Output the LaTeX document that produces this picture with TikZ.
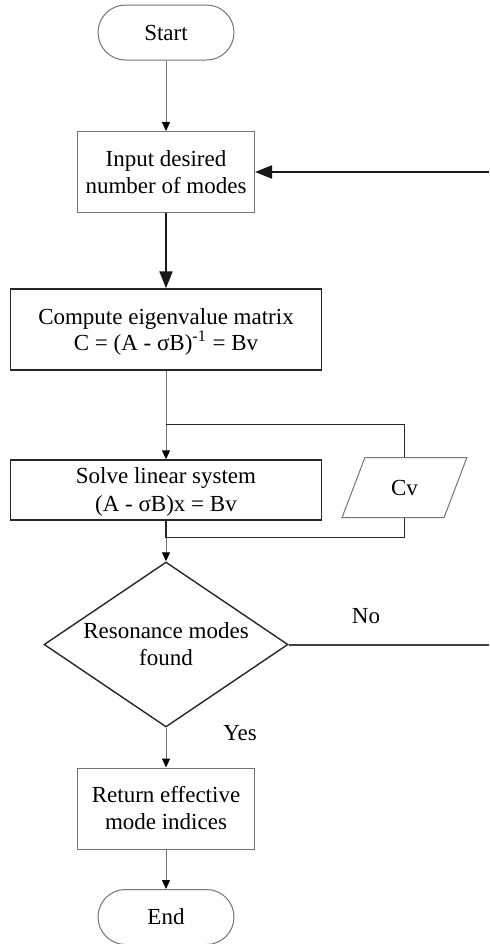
\documentclass[tikz,border=0pt]{standalone}
\usepackage{fontspec}
\setmainfont{Liberation Serif}
\usetikzlibrary{arrows.meta, shapes.geometric}

\begin{document}
\begin{tikzpicture}[x=0.5pt, y=-0.5pt,
	every node/.style={font=\fontsize{11.5}{13.5}\selectfont, align=center, inner sep=0pt},
	terminal/.style={draw=black!55, line width=0.5pt, rounded corners=13.75pt, minimum width=68pt, minimum height=27.5pt},
	thinbox/.style={draw=black!55, line width=0.5pt, minimum width=88.5pt, minimum height=40.5pt},
	boldbox/.style={draw=black!85, line width=0.7pt, minimum width=155.5pt},
	datain/.style={trapezium, trapezium left angle=63.4, trapezium right angle=116.6, trapezium stretches=true,
		draw=black!55, line width=0.5pt, minimum width=62.5pt, minimum height=30pt},
	decision/.style={diamond, aspect=1.48, draw=black!85, line width=0.7pt, minimum width=122pt, minimum height=82.5pt},
	flow/.style={-{Triangle[length=4.5pt, width=4pt, color=black]}, draw=black!55, line width=0.5pt},
	mainflow/.style={-{Triangle[length=8.5pt, width=6.5pt]}, draw=black!90, line width=1pt},
	loopline/.style={draw=black!85, line width=0.7pt},
	branch/.style={draw=black!75, line width=1pt}]
	
	\useasboundingbox (0,0) rectangle (489,944);
	
	% 1. 流程框
	\node[terminal] (start) at (166,32.5) {Start};
	\node[thinbox] (input) at (166,172) {Input desired\\number of modes};
	\node[boldbox, minimum height=40.5pt, text depth=0pt, font=\fontsize{11.5}{12}\selectfont] (compute) at (166,329.5)
		{Compute eigenvalue matrix\\C = (A - σB)\textsuperscript{-1} = Bv};
	\node[boldbox, minimum height=30pt, text depth=0pt, font=\fontsize{11.5}{14}\selectfont] (solve) at (166,490)
		{Solve linear system\\(A - σB)x = Bv};
	\node[datain] (cv) at (404.5,487.5) {Cv};
	\node[decision] (decide) at (166,644.5) {Resonance modes\\found};
	\node[thinbox] (output) at (166,808.5) {Return effective\\mode indices};
	\node[terminal] (stop) at (166,917) {End};
	
	% 2. 辅助坐标
	\coordinate (backin) at (489,172);   % 返回输入的入口
	\coordinate (noend) at (489,644.5);  % No 分支的出口
	\coordinate (looptop) at (166,424.5);
	\coordinate (loopbot) at (166,537.5);
	
	% 3. 主流程箭头
	\draw[flow] (start) -- (input);
	\draw[mainflow] (input) -- (compute);
	\draw[flow] (compute) -- (solve);
	\draw[flow] (solve) -- (decide);
	\draw[flow] (decide) -- (output);
	\draw[flow] (output) -- (stop);
	
	% 4. 迭代回路
	\draw[loopline] (looptop) -| (cv.north);
	\draw[loopline] (solve.south) -- (loopbot) -| (cv.south);
	
	% 5. 判断分支
	\draw[branch] (decide.east) -- (noend);
	\draw[mainflow] (backin) -- (input);
	\node[anchor=base] (nolabel) at (366,623) {No};
	\node[anchor=base] (yeslabel) at (240,740) {Yes};
	
\end{tikzpicture}
\end{document}
